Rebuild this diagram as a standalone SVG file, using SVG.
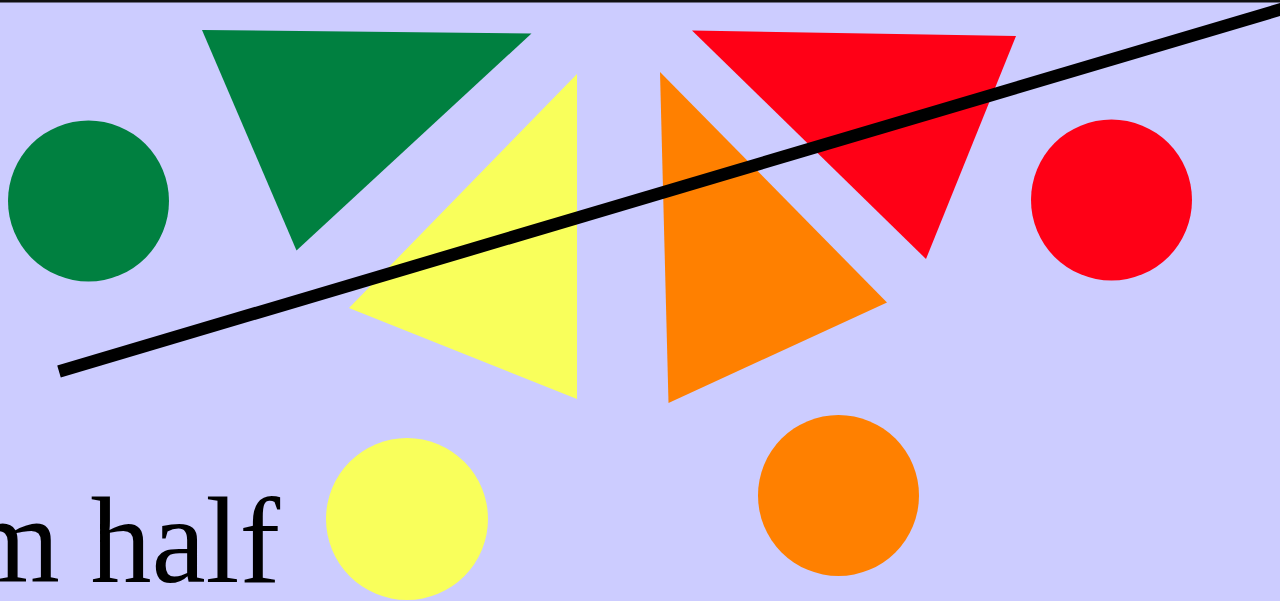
<svg xmlns="http://www.w3.org/2000/svg" width="1280" height="601" viewBox="0 0 1280 601">
  <style>
    .green { fill: #008040; }
    .red { fill: #FF0016; }
    .yellow { fill: #F9FF5B; }
    .orange { fill: #FF8000; }
    .label { font-family: "Liberation Serif", "Times New Roman", serif; font-size: 122px; fill: #000; }
  </style>
  <rect x="0" y="0" width="1280" height="601" fill="#CCCCFF"/>
  <rect x="0" y="0" width="1280" height="2.5" fill="#111111"/>
  <g id="green-circle"><circle class="green" cx="88.5" cy="201" r="80.5"/></g>
  <g id="green-triangle"><polygon class="green" points="202,30 531.5,33.5 296.5,250.5"/></g>
  <g id="yellow-triangle"><polygon class="yellow" points="577,74 577,399 349,308"/></g>
  <g id="orange-triangle"><polygon class="orange" points="660,72 887,302.5 668.5,403"/></g>
  <g id="red-triangle"><polygon class="red" points="692,30.5 1016,36 926,259"/></g>
  <g id="red-circle"><circle class="red" cx="1111.5" cy="200" r="80.5"/></g>
  <g id="yellow-circle"><circle class="yellow" cx="407" cy="519" r="81"/></g>
  <g id="orange-circle"><circle class="orange" cx="838.5" cy="495.5" r="80.5"/></g>
  <g id="connectors">
    <line x1="59" y1="371.5" x2="1300" y2="3.6" stroke="#000" stroke-width="12.5"/>
  </g>
  <text class="label" x="-35" y="582">m half</text>
</svg>
